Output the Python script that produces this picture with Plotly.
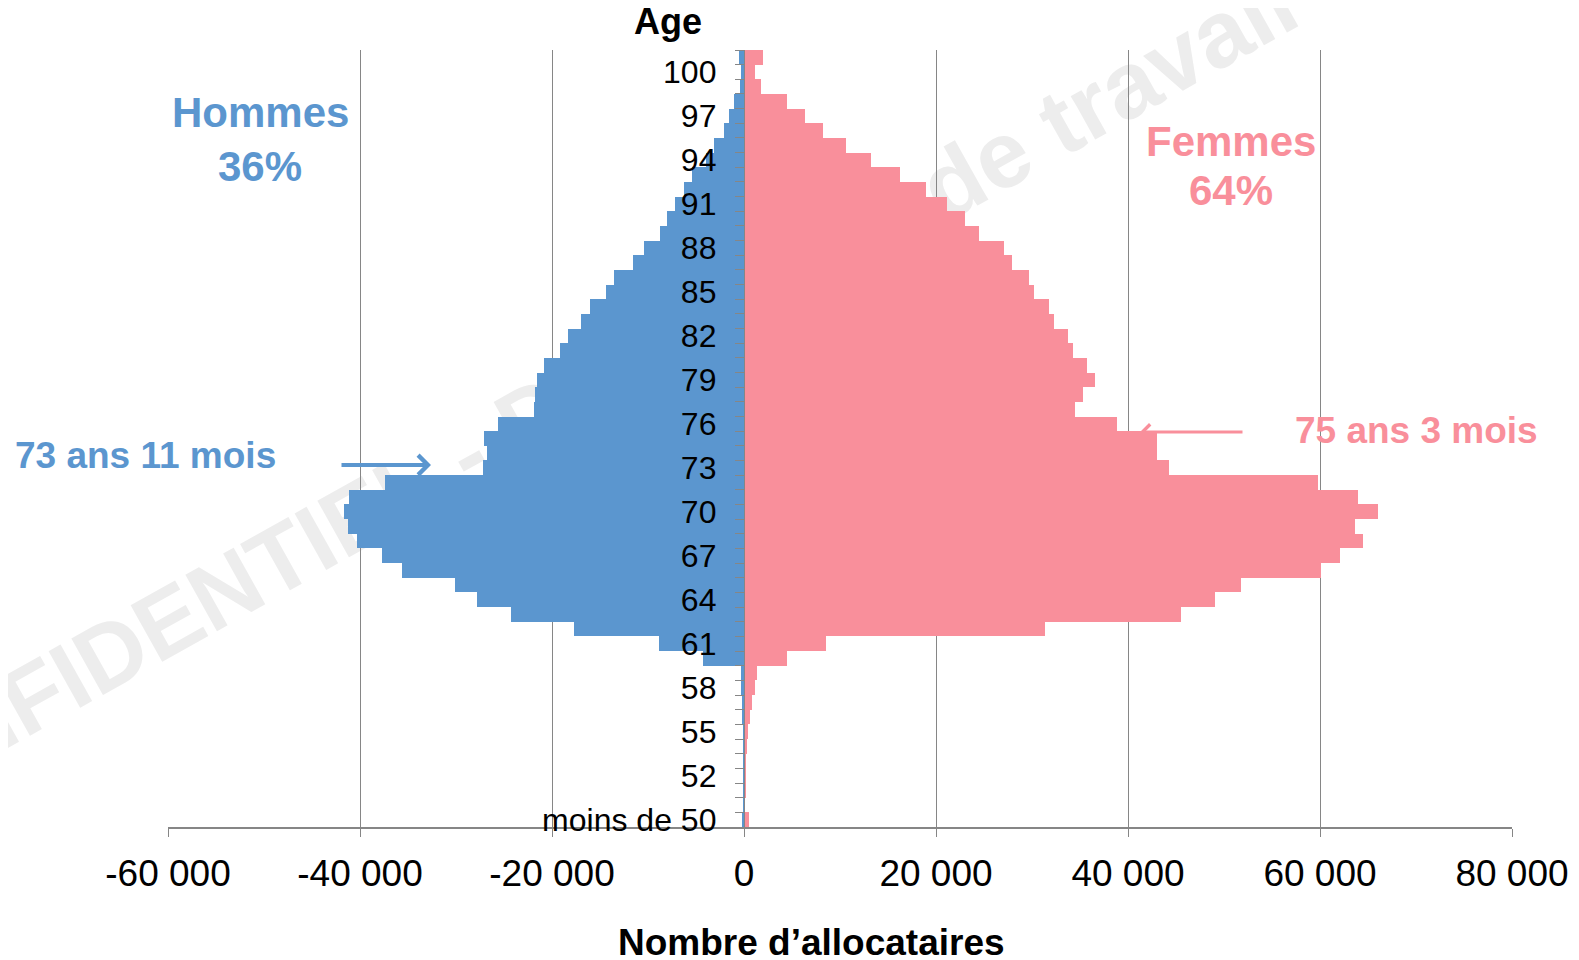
import plotly.graph_objects as go

# ---------------- data ----------------
age_labels = ["moins de 50"] + [str(a) for a in range(50, 101)] + ["101 et plus"]

hommes = [200, 50, 50, 60, 70, 80, 100, 120, 180, 280, 350, 4300, 8900, 17700,
          24300, 27800, 30100, 35600, 37700, 40300, 41300, 41700, 41100, 37400,
          27200, 26800, 27100, 25600, 21900, 21800, 21600, 20800, 19200, 18300,
          17000, 16000, 14400, 13500, 11600, 10400, 8700, 8000, 7200, 6200, 5400,
          4000, 3100, 2100, 1550, 1080, 420, 350, 550]

femmes = [550, 100, 140, 180, 220, 320, 450, 600, 850, 1100, 1350, 4500, 8500,
          31400, 45500, 49100, 51800, 60100, 62100, 64500, 63600, 66000, 64000,
          59800, 44300, 43000, 43000, 38900, 34500, 35300, 36600, 35700, 34300,
          33700, 32300, 31800, 30200, 29700, 27900, 27100, 24500, 23000, 21100,
          19000, 16200, 13200, 10600, 8200, 6400, 4500, 1800, 1100, 2000]

x_tick_vals = [-60000, -40000, -20000, 0, 20000, 40000, 60000, 80000]
x_tick_text = ["-60 000", "-40 000", "-20 000", "0", "20 000", "40 000", "60 000", "80 000"]

# ---------------- style ----------------
BLUE = "#5B96CF"
PINK = "#F98F9B"
GRID = "#868686"
FONT = "Liberation Sans, Arial, sans-serif"
W, H = 1579, 960
ML, MR, MT, MB = 160, 75, 42, 141
PW, PH = W - ML - MR, H - MT - MB


def px(x):
    return (x - ML) / PW


def py(y):
    return (H - MB - y) / PH


y_pos = list(range(len(age_labels)))
x_min, x_max = x_tick_vals[0], x_tick_vals[-1]

fig = go.Figure()
fig.add_bar(y=y_pos, x=[-v for v in hommes], orientation="h", width=1,
            marker=dict(color=BLUE, line=dict(width=0)), name="Hommes")
fig.add_bar(y=y_pos, x=femmes, orientation="h", width=1,
            marker=dict(color=PINK, line=dict(width=0)), name="Femmes")

fig.update_layout(
    width=W, height=H,
    margin=dict(l=ML, r=MR, t=MT, b=MB, autoexpand=False),
    paper_bgcolor="white", plot_bgcolor="white",
    barmode="overlay", bargap=0, showlegend=False,
    font=dict(family=FONT, color="black"),
    xaxis=dict(range=[x_min, x_max], tickmode="array", tickvals=x_tick_vals,
               ticktext=x_tick_text, showgrid=True, gridcolor=GRID, gridwidth=1,
               zeroline=False, showline=True, linecolor=GRID, linewidth=2,
               ticks="outside", ticklen=8, tickcolor=GRID, tickwidth=1,
               ticklabelstandoff=5,
               tickfont=dict(size=37, color="black", family=FONT),
               automargin=False, fixedrange=True),
    yaxis=dict(range=[-0.5, len(age_labels) - 0.5], anchor="free",
               position=(0 - x_min) / (x_max - x_min),
               tickmode="array", tickvals=y_pos[::3], ticktext=age_labels[::3],
               ticks="", showline=True, linecolor=GRID, linewidth=1.3,
               showgrid=False, zeroline=False,
               tickfont=dict(size=32, color="black", family=FONT),
               ticklabelstandoff=21,
               minor=dict(tickmode="linear", tick0=0.5, dtick=1, ticks="outside",
                          ticklen=9, tickcolor=GRID, tickwidth=1.3, showgrid=False),
               automargin=False, fixedrange=True),
)

# watermark (behind bars)
wm_cx, wm_cy, wm_dx, wm_dy = 597, 422, 765, 428
fig.add_shape(type="line", xref="paper", yref="paper",
              x0=px(wm_cx - wm_dx), y0=py(wm_cy + wm_dy),
              x1=px(wm_cx + wm_dx), y1=py(wm_cy - wm_dy),
              line=dict(color="rgba(0,0,0,0)", width=1), layer="below",
              label=dict(text="CONFIDENTIEL - Document de travail -",
                         textposition="middle",
                         font=dict(size=94, color="#EDEDED", family=FONT, weight="bold")))

ann = []


def text_ann(txt, x, y, size, color, xanchor="center"):
    ann.append(dict(text=txt, x=px(x), y=py(y), xref="paper", yref="paper",
                    showarrow=False, xanchor=xanchor, yanchor="middle",
                    font=dict(size=size, color=color, family=FONT, weight="bold")))


text_ann("Age", 660, 14, 36, "black")
text_ann("Nombre d’allocataires", 803, 934, 37, "black")
text_ann("Hommes", 252, 105, 42, BLUE)
text_ann("36%", 252, 158, 42, BLUE)
text_ann("Femmes", 1223, 133, 42, PINK)
text_ann("64%", 1223, 183, 42, PINK)
text_ann("73 ans 11 mois", 5, 447, 37, BLUE, "left")
text_ann("75 ans 3 mois", 1285, 422, 37, PINK, "left")

# arrows
ann.append(dict(text="", x=px(423), y=py(457), xref="paper", yref="paper",
                showarrow=True, ax=-(423 - 332), ay=0, arrowhead=4, arrowsize=0.95,
                arrowwidth=4, arrowcolor=BLUE, standoff=0))
ann.append(dict(text="", x=px(1132), y=py(424), xref="paper", yref="paper",
                showarrow=True, ax=(1236 - 1132), ay=0, arrowhead=4, arrowsize=1,
                arrowwidth=3, arrowcolor=PINK, standoff=0))
fig.update_layout(annotations=ann)

fig.write_html("out.html")
